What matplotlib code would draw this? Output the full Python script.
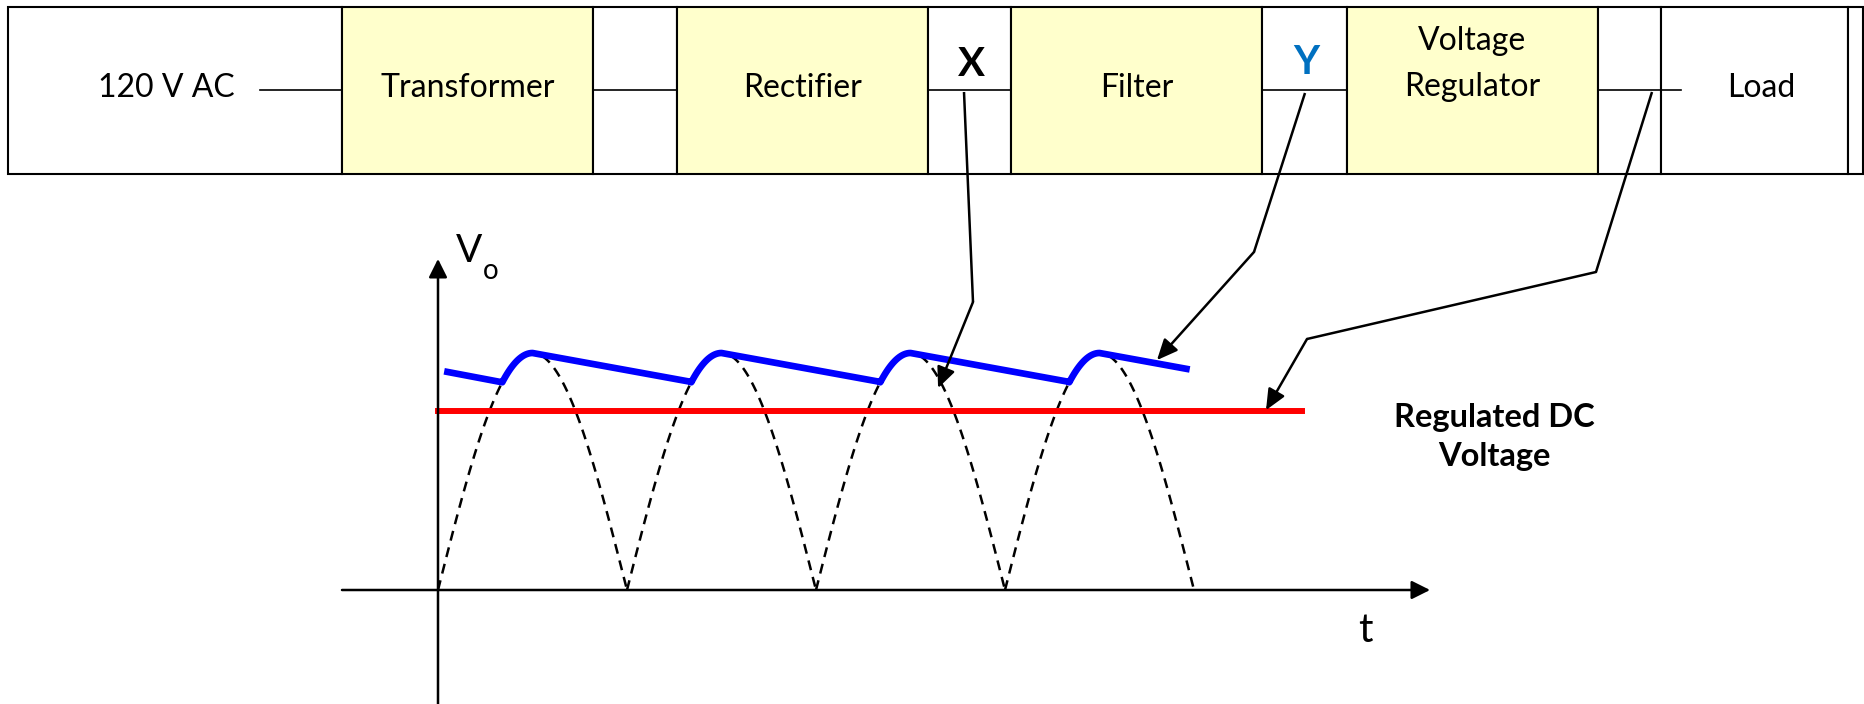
import numpy as np
import matplotlib
matplotlib.use("Agg")
import matplotlib.pyplot as plt
from matplotlib.patches import Rectangle

plt.rcParams['font.family'] = ['Lato', 'DejaVu Sans']

# block strip (pixel layout of the top row)
cell_labels = ["120 V AC", "Transformer", "", "Rectifier", "X", "Filter", "Y",
               "Voltage\nRegulator", "", "Load", ""]
cell_edges = [8, 342, 593, 677, 928, 1011, 1262, 1347, 1598, 1661, 1848, 1863]
cell_yellow = [False, True, False, True, False, True, False, True, False, False, False]
wires = [(260, 342), (593, 677), (928, 1011), (1262, 1347), (1598, 1681)]

# waveform, t in half periods, V normalised to the peak
zeros = [0, 1, 2, 3, 4]
v_peak = 1.0
ripple_low = 0.878
ripple_rise = 0.34      # where the filter output meets the next half cycle
blue_start = 0.05
blue_end = 3.96
dc_level = 0.755
dc_end = 4.57

# leader lines: start in the strip (pixels), end on the waveform (t, V)
leaders = {
    "X": ([(964, 92), (973, 302)], (2.646, 0.852)),
    "Y": ([(1305, 93), (1254, 252)], (3.804, 0.970)),
    "Load": ([(1652, 92), (1596, 272), (1307, 339)], (4.381, 0.759)),
}

W, H = 1864, 704
fig = plt.figure(figsize=(W / 100, H / 100), dpi=100)

# waveform axes: t=0 at x=438 px, V=0 at y=590 px, 189 px per t, 237 px per V
x0, y0, sx, sy = 438, 590, 189, 237
xlim = (-0.6, 5.4)
ylim = (-0.5, 1.6)
left = (x0 + xlim[0] * sx) / W
right = (x0 + xlim[1] * sx) / W
bottom = (H - (y0 - ylim[0] * sy)) / H
top = (H - (y0 - ylim[1] * sy)) / H
axw = fig.add_axes([left, bottom, right - left, top - bottom])
axw.set_xlim(*xlim)
axw.set_ylim(*ylim)
axw.axis('off')
axw.patch.set_alpha(0)

# full wave rectified sine (dashed)
for k in zeros[:-1]:
    t = np.linspace(k, k + 1, 120)
    line, = axw.plot(t, v_peak * np.abs(np.sin(np.pi * t)), color='black', lw=1.8)
    line.set_dashes([4, 2.8])

# filtered output (blue ripple)
slope = (ripple_low - v_peak) / (1 + ripple_rise - 0.5)
bt = [blue_start]
bv = [v_peak + slope * (blue_start + 0.5)]
for k in zeros[:-1]:
    ts = np.linspace(k + ripple_rise, k + 0.5, 20)
    bt += list(ts)
    bv += list(v_peak * np.abs(np.sin(np.pi * ts)))
    if k < zeros[-2]:
        bt.append(k + 1 + ripple_rise)
        bv.append(ripple_low)
bt.append(blue_end)
bv.append(v_peak + slope * (blue_end - zeros[-2] - 0.5))
axw.plot(bt, bv, color='#0000FF', lw=4.8, solid_joinstyle='round')

# regulated DC
axw.plot([0, dc_end], [dc_level, dc_level], color='#FF0000', lw=4.3)

# axes with arrows
arrow_kw = dict(arrowstyle='-|>,head_length=0.8,head_width=0.4', mutation_scale=14,
                color='black', lw=1.8, shrinkA=0, shrinkB=0)
axw.annotate('', xy=(0, 1.397), xytext=(0, -0.5), arrowprops=arrow_kw)
axw.annotate('', xy=(5.249, 0), xytext=(-0.508, 0), arrowprops=arrow_kw)

# overlay in pixel coordinates for the strip and the leader lines
ax = fig.add_axes([0, 0, 1, 1])
ax.set_xlim(0, W)
ax.set_ylim(H, 0)
ax.axis('off')
ax.patch.set_alpha(0)

strip_top, strip_bot = 7, 174
for i, lab in enumerate(cell_labels):
    xa, xb = cell_edges[i], cell_edges[i + 1]
    fc = '#FFFFCC' if cell_yellow[i] else 'white'
    ax.add_patch(Rectangle((xa, strip_top), xb - xa, strip_bot - strip_top,
                           facecolor=fc, edgecolor='black', lw=1.5))

for xa, xb in wires:
    ax.plot([xa, xb], [90, 90], color='black', lw=1.2)

ax.text(166, 88, "120 V AC", ha='center', va='center', fontsize=23)
for i in [1, 3, 5]:
    ax.text((cell_edges[i] + cell_edges[i + 1]) / 2, 88, cell_labels[i],
            ha='center', va='center', fontsize=23)
ax.text(1472, 64, cell_labels[7], ha='center', va='center', fontsize=23,
        linespacing=1.7)
ax.text(1761, 88, "Load", ha='center', va='center', fontsize=23)
ax.text(971, 64, "X", ha='center', va='center', fontsize=29, fontweight='bold')
ax.text(1306, 63, "Y", ha='center', va='center', fontsize=29, fontweight='bold',
        color='#0070C0')

# leader lines into the waveform
lead_kw = dict(arrowstyle='-|>,head_length=0.9,head_width=0.4', mutation_scale=14,
               color='black', lw=1.8, shrinkA=0, shrinkB=0)
for name, (pts, tip) in leaders.items():
    xs = [p[0] for p in pts]
    ys = [p[1] for p in pts]
    ax.plot(xs, ys, color='black', lw=1.8, solid_capstyle='butt')
    ax.annotate('', xy=tip, xycoords=axw.transData, xytext=pts[-1],
                textcoords='data', arrowprops=lead_kw)

# labels
ax.text(456, 251, "V", ha='left', va='center', fontsize=28)
ax.text(483, 271, "o", ha='left', va='center', fontsize=20)
ax.text(1365, 630, "t", ha='center', va='center', fontsize=29)
ax.text(1494, 437, "Regulated DC\nVoltage", ha='center', va='center', fontsize=23.5,
        fontweight='bold', linespacing=1.42)

fig.savefig("out.png", dpi=100)
